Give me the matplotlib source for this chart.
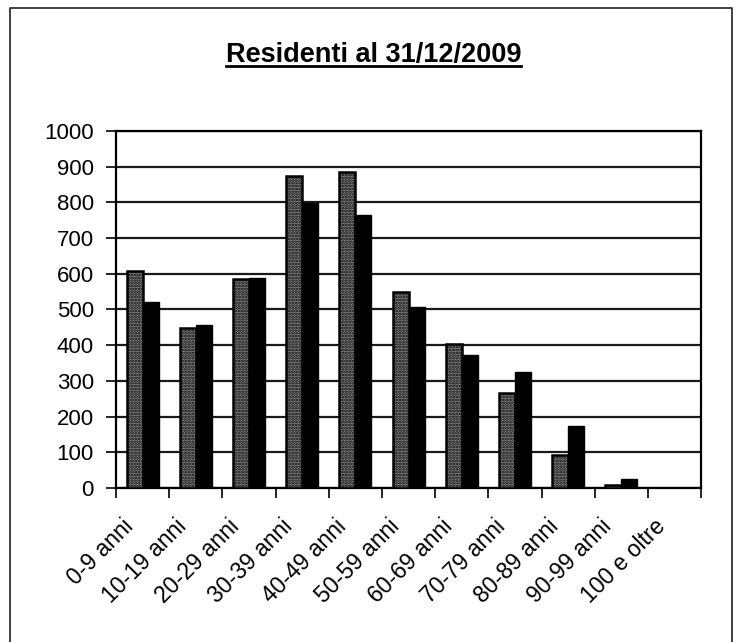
import numpy as np
import matplotlib
matplotlib.use("Agg")
import matplotlib.pyplot as plt
import matplotlib.transforms as mtransforms
from matplotlib.lines import Line2D

plt.rcParams['font.family'] = ['Liberation Sans', 'DejaVu Sans']
plt.rcParams['hatch.linewidth'] = 1.3

# residenti per fascia d'eta
fasce = ['0-9 anni', '10-19 anni', '20-29 anni', '30-39 anni', '40-49 anni',
         '50-59 anni', '60-69 anni', '70-79 anni', '80-89 anni', '90-99 anni',
         '100 e oltre']
serie1 = [607, 447, 584, 873, 885, 549, 402, 267, 92, 8, 0]
serie2 = [520, 456, 589, 799, 766, 508, 373, 325, 173, 26, 1]
yticks = [0, 100, 200, 300, 400, 500, 600, 700, 800, 900, 1000]

fig = plt.figure(figsize=(7.38, 6.42), dpi=100)
ax = fig.add_axes([0.1572, 0.2399, 0.7928, 0.5561])

x = np.arange(len(fasce))
w = 0.3
ax.bar(x - w/2, serie1, width=w, color='#8c8c8c', edgecolor='black',
       hatch='......', linewidth=1.8, zorder=3)
ax.bar(x + w/2, serie2, width=w, color='black', edgecolor='black',
       linewidth=1.0, zorder=3)

ax.set_xlim(-0.5, len(fasce) - 0.5)
ax.set_ylim(0, 1000)
ax.set_yticks(yticks)
ax.set_yticklabels([str(v) for v in yticks], fontsize=16)
ax.yaxis.grid(True, color='#1a1a1a', linewidth=1.6, zorder=0)
ax.set_axisbelow(True)

# ticks between categories, labels drawn by hand under each category
ax.set_xticks(np.arange(len(fasce) + 1) - 0.5)
ax.set_xticklabels([])
ax.tick_params(axis='x', length=7, width=1.2, direction='out')
ax.tick_params(axis='y', length=7, width=1.2, direction='out', pad=9)

base = mtransforms.blended_transform_factory(ax.transData, ax.transAxes)
shift = mtransforms.ScaledTranslation(-0.21, -0.27, fig.dpi_scale_trans)
for xi, lab in zip(x, fasce):
    ax.text(xi, 0, lab, transform=base + shift, rotation=45, ha='right',
            va='top', rotation_mode='anchor', fontsize=16.5, clip_on=False)

for s in ax.spines.values():
    s.set_linewidth(1.6)
    s.set_color('black')

t = fig.text(0.506, 0.9034, 'Residenti al 31/12/2009', ha='center',
             va='baseline', fontsize=19.5, fontweight='bold')

# underline the title and draw the chart border
fig.canvas.draw()
bb = t.get_window_extent().transformed(fig.transFigure.inverted())
uy = 0.9034 - 4.0 / 642
fig.add_artist(Line2D([bb.x0, bb.x1], [uy, uy], color='black',
                      linewidth=2.0, transform=fig.transFigure))
bx0, bx1, by1 = 10 / 738, 732 / 738, 1 - 8 / 642
fig.add_artist(Line2D([bx0, bx0, bx1, bx1], [0, by1, by1, 0],
                      color='#333333', linewidth=1.3,
                      transform=fig.transFigure))

fig.savefig('out.png', dpi=100)
